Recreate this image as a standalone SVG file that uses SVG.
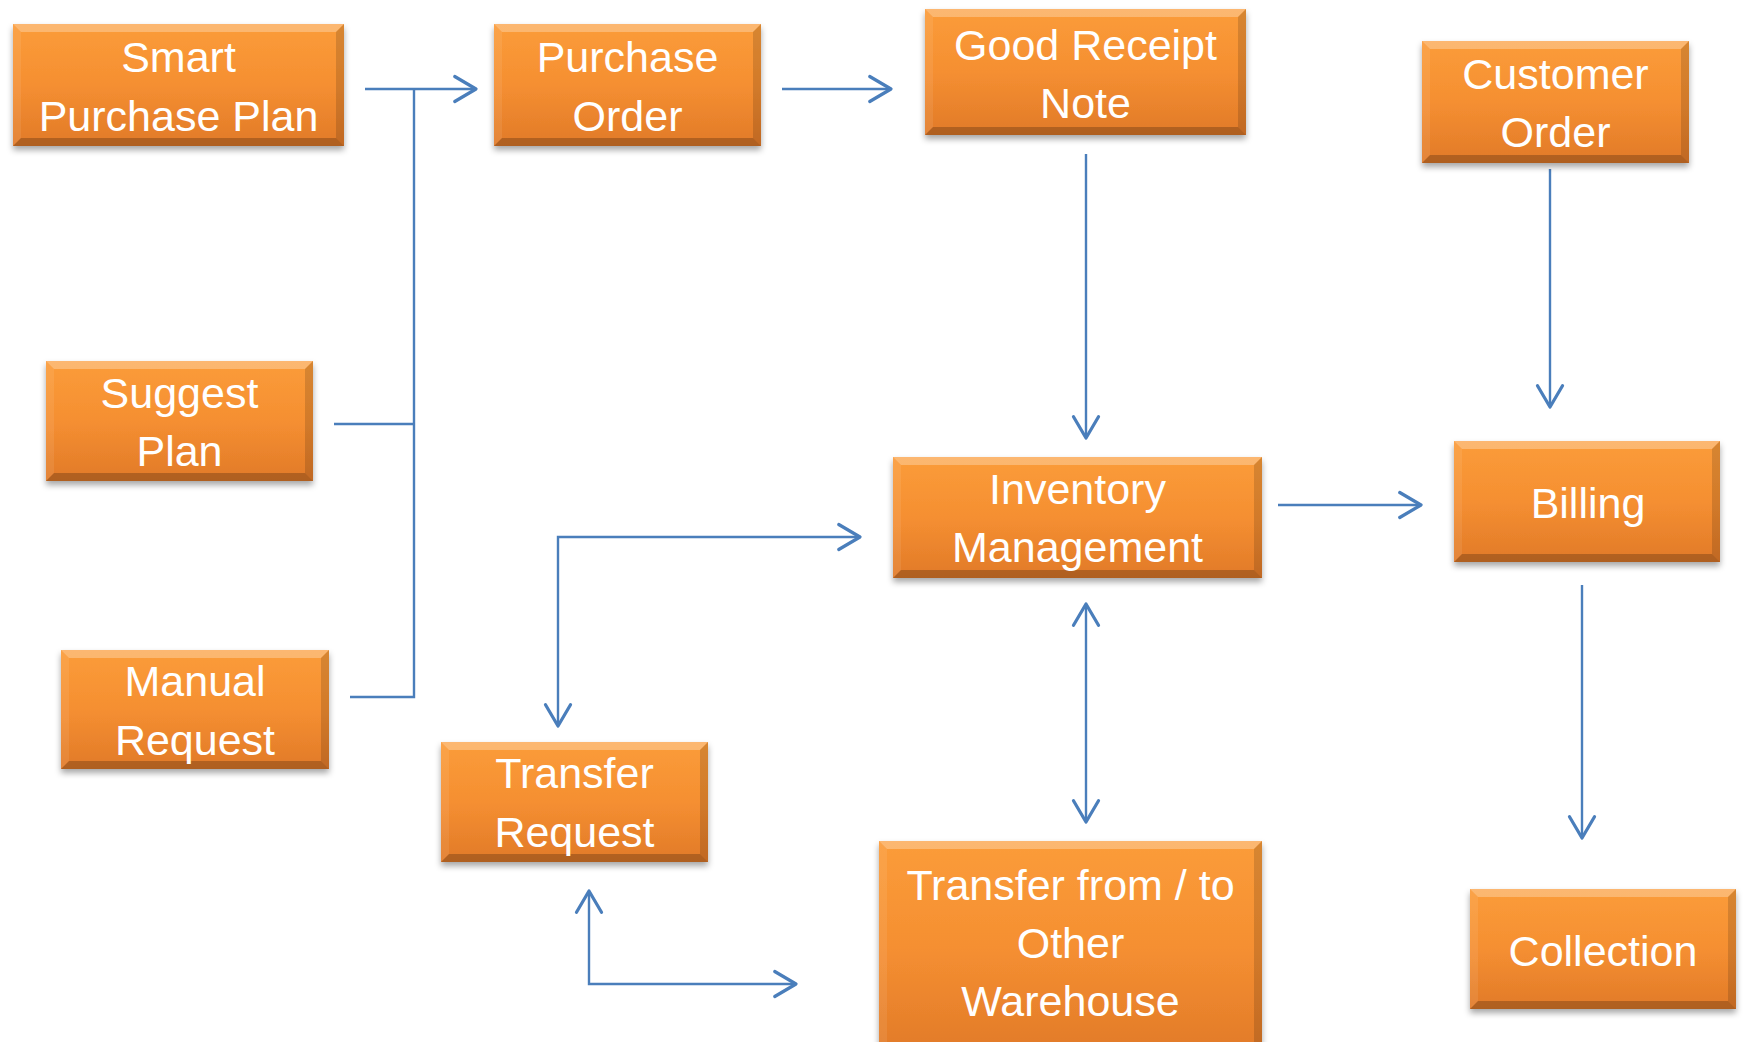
<svg xmlns="http://www.w3.org/2000/svg" width="1747" height="1042" viewBox="0 0 1747 1042">
<defs>
<linearGradient id="og" x1="0" y1="0" x2="0" y2="1">
<stop offset="0" stop-color="#fb9c3a"/>
<stop offset="0.5" stop-color="#f58f31"/>
<stop offset="1" stop-color="#e17a29"/>
</linearGradient>
<filter id="sh" x="-10%" y="-10%" width="120%" height="130%">
<feDropShadow dx="0" dy="4" stdDeviation="3" flood-color="#000" flood-opacity="0.35"/>
</filter>
<marker id="ah" markerUnits="userSpaceOnUse" markerWidth="30" markerHeight="30" viewBox="-20 -12 24 24" refX="0" refY="0" orient="auto-start-reverse">
<path d="M-17,-10 L0,0 L-17,10" fill="none" stroke="#4a7ebb" stroke-width="2.6" stroke-linecap="round" stroke-linejoin="round"/>
</marker>
</defs>
<style>
.box{fill:url(#og);filter:url(#sh)}
.bt{fill:#fff;fill-opacity:0.28}
.bl{fill:#fff;fill-opacity:0.08}
.br{fill:#000;fill-opacity:0.14}
.bb{fill:#000;fill-opacity:0.22}
.lbl{font-family:"Liberation Sans",Arial,sans-serif;font-size:43px;fill:#fff;text-anchor:middle}
.cn{fill:none;stroke:#4a7ebb;stroke-width:2.4}
.ar{marker-end:url(#ah)}
.ar2{marker-start:url(#ah);marker-end:url(#ah)}
</style>
<rect width="1747" height="1042" fill="#fff"/>

<g id="connectors">
<line class="cn ar" x1="365" y1="89" x2="476" y2="89"/>
<polyline class="cn" points="414,89 414,697 350,697"/>
<line class="cn" x1="334" y1="424" x2="414" y2="424"/>
<line class="cn ar" x1="782" y1="89" x2="891" y2="89"/>
<line class="cn ar" x1="1086" y1="154" x2="1086" y2="438"/>
<line class="cn ar" x1="1550" y1="169" x2="1550" y2="407"/>
<line class="cn ar" x1="1278" y1="505" x2="1421" y2="505"/>
<line class="cn ar" x1="1582" y1="585" x2="1582" y2="838"/>
<line class="cn ar2" x1="1086" y1="604" x2="1086" y2="822"/>
<polyline class="cn ar2" points="558,726 558,537 860,537"/>
<polyline class="cn ar2" points="589,891 589,984 796,984"/>
</g>

<g id="smart-purchase-plan">
<rect class="box" x="13" y="24" width="331" height="122"/>
<polygon class="bt" points="13,24 344,24 336,32 21,32"/>
<polygon class="bl" points="13,24 21,32 21,138 13,146"/>
<polygon class="br" points="344,24 336,32 336,138 344,146"/>
<polygon class="bb" points="13,146 344,146 336,138 21,138"/>
<text class="lbl" x="178.5" y="72">Smart</text>
<text class="lbl" x="178.5" y="131">Purchase Plan</text>
</g>

<g id="purchase-order">
<rect class="box" x="494" y="24" width="267" height="122"/>
<polygon class="bt" points="494,24 761,24 753,32 502,32"/>
<polygon class="bl" points="494,24 502,32 502,138 494,146"/>
<polygon class="br" points="761,24 753,32 753,138 761,146"/>
<polygon class="bb" points="494,146 761,146 753,138 502,138"/>
<text class="lbl" x="627.5" y="72">Purchase</text>
<text class="lbl" x="627.5" y="131">Order</text>
</g>

<g id="good-receipt-note">
<rect class="box" x="925" y="9" width="321" height="126"/>
<polygon class="bt" points="925,9 1246,9 1238,17 933,17"/>
<polygon class="bl" points="925,9 933,17 933,127 925,135"/>
<polygon class="br" points="1246,9 1238,17 1238,127 1246,135"/>
<polygon class="bb" points="925,135 1246,135 1238,127 933,127"/>
<text class="lbl" x="1085.5" y="60">Good Receipt</text>
<text class="lbl" x="1085.5" y="118">Note</text>
</g>

<g id="customer-order">
<rect class="box" x="1422" y="41" width="267" height="122"/>
<polygon class="bt" points="1422,41 1689,41 1681,49 1430,49"/>
<polygon class="bl" points="1422,41 1430,49 1430,155 1422,163"/>
<polygon class="br" points="1689,41 1681,49 1681,155 1689,163"/>
<polygon class="bb" points="1422,163 1689,163 1681,155 1430,155"/>
<text class="lbl" x="1555.5" y="89">Customer</text>
<text class="lbl" x="1555.5" y="147">Order</text>
</g>

<g id="suggest-plan">
<rect class="box" x="46" y="361" width="267" height="120"/>
<polygon class="bt" points="46,361 313,361 305,369 54,369"/>
<polygon class="bl" points="46,361 54,369 54,473 46,481"/>
<polygon class="br" points="313,361 305,369 305,473 313,481"/>
<polygon class="bb" points="46,481 313,481 305,473 54,473"/>
<text class="lbl" x="179.5" y="408">Suggest</text>
<text class="lbl" x="179.5" y="466">Plan</text>
</g>

<g id="manual-request">
<rect class="box" x="61" y="650" width="268" height="119"/>
<polygon class="bt" points="61,650 329,650 321,658 69,658"/>
<polygon class="bl" points="61,650 69,658 69,761 61,769"/>
<polygon class="br" points="329,650 321,658 321,761 329,769"/>
<polygon class="bb" points="61,769 329,769 321,761 69,761"/>
<text class="lbl" x="195" y="696">Manual</text>
<text class="lbl" x="195" y="755">Request</text>
</g>

<g id="inventory-management">
<rect class="box" x="893" y="457" width="369" height="121"/>
<polygon class="bt" points="893,457 1262,457 1254,465 901,465"/>
<polygon class="bl" points="893,457 901,465 901,570 893,578"/>
<polygon class="br" points="1262,457 1254,465 1254,570 1262,578"/>
<polygon class="bb" points="893,578 1262,578 1254,570 901,570"/>
<text class="lbl" x="1077.5" y="504">Inventory</text>
<text class="lbl" x="1077.5" y="562">Management</text>
</g>

<g id="billing">
<rect class="box" x="1454" y="441" width="266" height="121"/>
<polygon class="bt" points="1454,441 1720,441 1712,449 1462,449"/>
<polygon class="bl" points="1454,441 1462,449 1462,554 1454,562"/>
<polygon class="br" points="1720,441 1712,449 1712,554 1720,562"/>
<polygon class="bb" points="1454,562 1720,562 1712,554 1462,554"/>
<text class="lbl" x="1588" y="518">Billing</text>
</g>

<g id="collection">
<rect class="box" x="1470" y="889" width="266" height="120"/>
<polygon class="bt" points="1470,889 1736,889 1728,897 1478,897"/>
<polygon class="bl" points="1470,889 1478,897 1478,1001 1470,1009"/>
<polygon class="br" points="1736,889 1728,897 1728,1001 1736,1009"/>
<polygon class="bb" points="1470,1009 1736,1009 1728,1001 1478,1001"/>
<text class="lbl" x="1603" y="966">Collection</text>
</g>

<g id="transfer-request">
<rect class="box" x="441" y="742" width="267" height="120"/>
<polygon class="bt" points="441,742 708,742 700,750 449,750"/>
<polygon class="bl" points="441,742 449,750 449,854 441,862"/>
<polygon class="br" points="708,742 700,750 700,854 708,862"/>
<polygon class="bb" points="441,862 708,862 700,854 449,854"/>
<text class="lbl" x="574.5" y="788">Transfer</text>
<text class="lbl" x="574.5" y="847">Request</text>
</g>

<g id="transfer-other-warehouse">
<rect class="box" x="879" y="841" width="383" height="215"/>
<polygon class="bt" points="879,841 1262,841 1254,849 887,849"/>
<polygon class="bl" points="879,841 887,849 887,1048 879,1056"/>
<polygon class="br" points="1262,841 1254,849 1254,1048 1262,1056"/>
<text class="lbl" x="1070.5" y="900">Transfer from / to</text>
<text class="lbl" x="1070.5" y="958">Other</text>
<text class="lbl" x="1070.5" y="1016">Warehouse</text>
</g>
</svg>
